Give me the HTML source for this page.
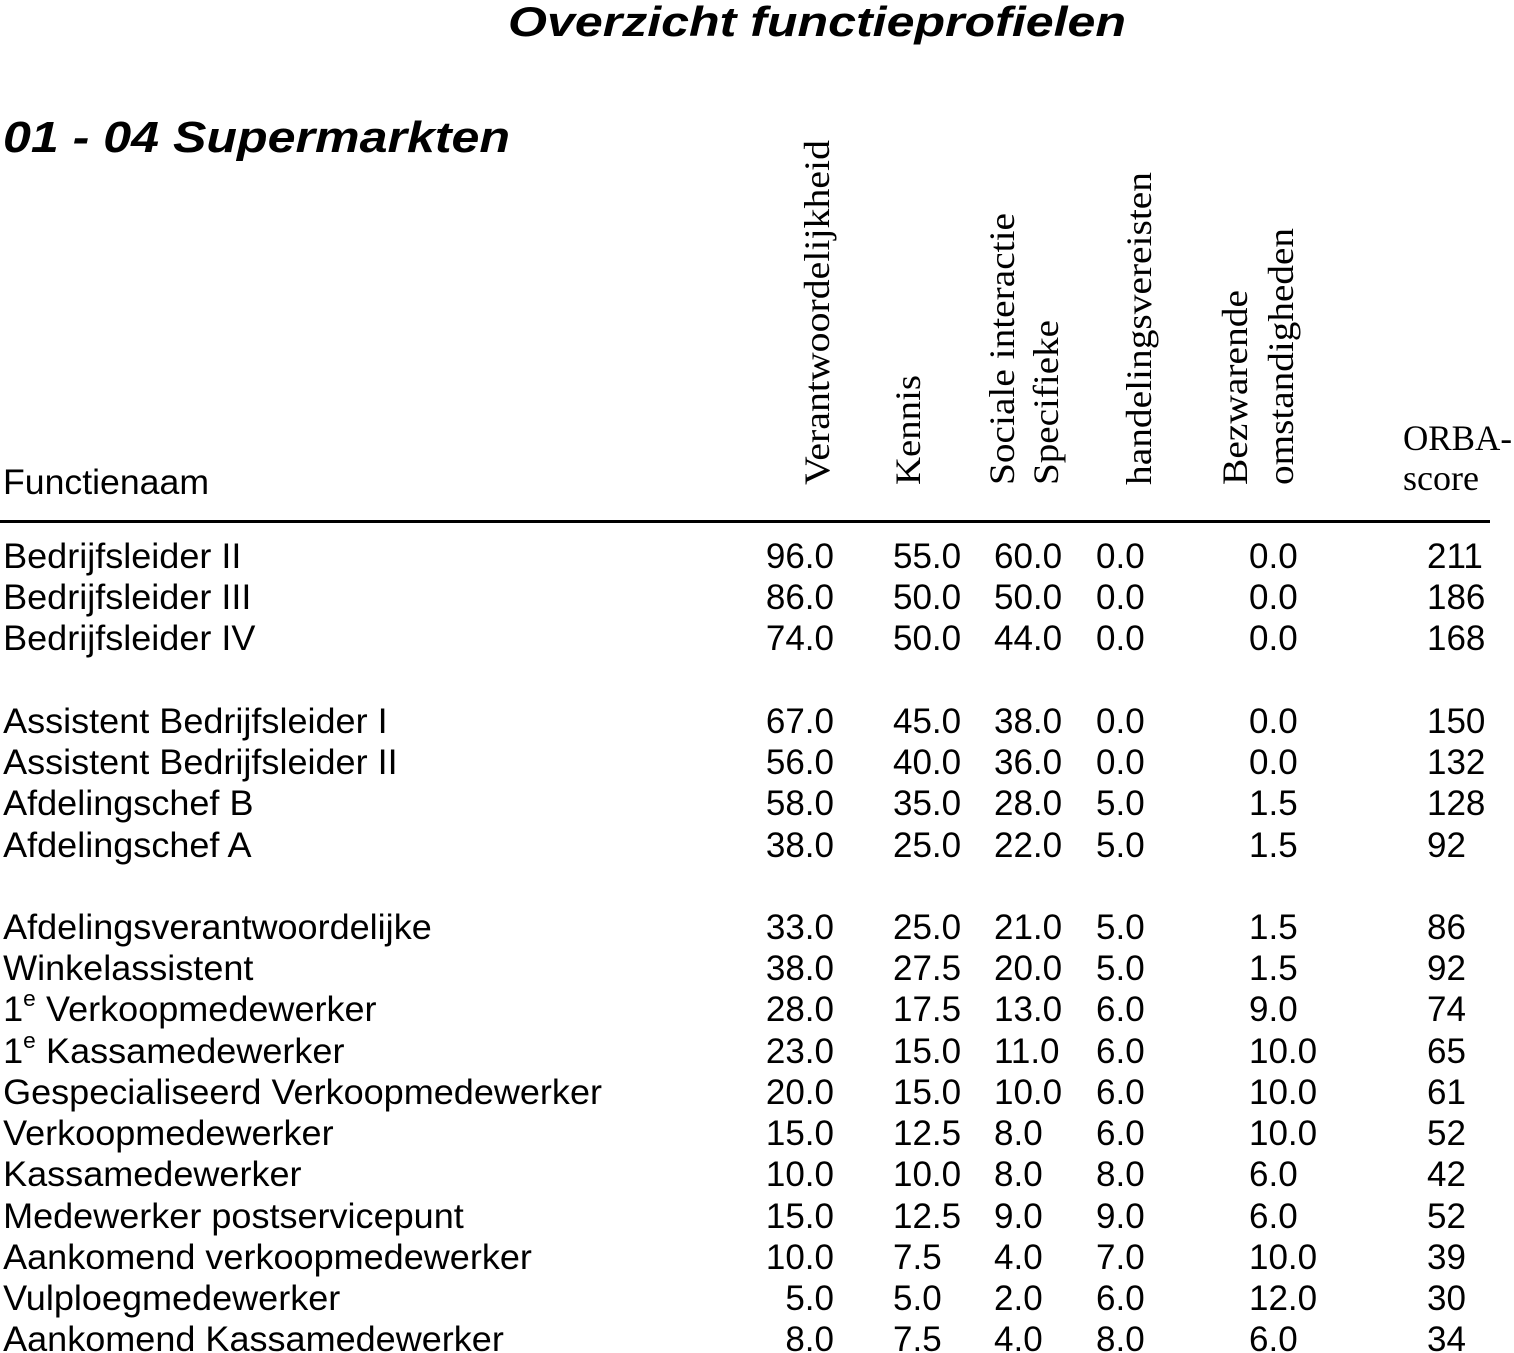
<!DOCTYPE html>
<html><head><meta charset="utf-8"><style>
html,body{margin:0;padding:0;background:#fff;}
svg{display:block;}
.s{font-family:"Liberation Sans",sans-serif;font-size:35px;fill:#000;}
.r{font-family:"Liberation Serif",serif;font-size:36px;fill:#000;}
.t{font-family:"Liberation Sans",sans-serif;font-weight:bold;font-style:italic;fill:#000;}
</style></head><body>
<svg width="1514" height="1353" viewBox="0 0 1514 1353" xmlns="http://www.w3.org/2000/svg">
<text class="t" x="817" y="36" font-size="42" text-anchor="middle" textLength="618" lengthAdjust="spacingAndGlyphs">Overzicht functieprofielen</text>
<text class="t" x="3" y="152" font-size="44" textLength="507" lengthAdjust="spacingAndGlyphs">01 - 04 Supermarkten</text>
<text class="r" transform="translate(829,485) rotate(-90)" textLength="345" lengthAdjust="spacingAndGlyphs">Verantwoordelijkheid</text>
<text class="r" transform="translate(920,485) rotate(-90)" textLength="110" lengthAdjust="spacingAndGlyphs">Kennis</text>
<text class="r" transform="translate(1014,485) rotate(-90)" textLength="272" lengthAdjust="spacingAndGlyphs">Sociale interactie</text>
<text class="r" transform="translate(1058,485) rotate(-90)" textLength="165" lengthAdjust="spacingAndGlyphs">Specifieke</text>
<text class="r" transform="translate(1151,485) rotate(-90)" textLength="313" lengthAdjust="spacingAndGlyphs">handelingsvereisten</text>
<text class="r" transform="translate(1247,485) rotate(-90)" textLength="195" lengthAdjust="spacingAndGlyphs">Bezwarende</text>
<text class="r" transform="translate(1293,485) rotate(-90)" textLength="257" lengthAdjust="spacingAndGlyphs">omstandigheden</text>
<text class="r" x="1403" y="450" textLength="109" lengthAdjust="spacingAndGlyphs">ORBA-</text>
<text class="r" x="1403" y="490" textLength="76" lengthAdjust="spacingAndGlyphs">score</text>
<text class="s" x="3" y="494" textLength="206" lengthAdjust="spacingAndGlyphs">Functienaam</text>
<rect x="0" y="520" width="1490" height="3" fill="#000"/>
<g class="s" id="names" transform="scale(1.03,1)"></g>
<g class="s" id="rows"></g>
</svg>
<script>
var rows=[
[556,"Bedrijfsleider II","96.0","55.0","60.0","0.0","0.0","211"],
[597,"Bedrijfsleider III","86.0","50.0","50.0","0.0","0.0","186"],
[638,"Bedrijfsleider IV","74.0","50.0","44.0","0.0","0.0","168"],
[721,"Assistent Bedrijfsleider I","67.0","45.0","38.0","0.0","0.0","150"],
[762,"Assistent Bedrijfsleider II","56.0","40.0","36.0","0.0","0.0","132"],
[803,"Afdelingschef B","58.0","35.0","28.0","5.0","1.5","128"],
[845,"Afdelingschef A","38.0","25.0","22.0","5.0","1.5","92"],
[927,"Afdelingsverantwoordelijke","33.0","25.0","21.0","5.0","1.5","86"],
[968,"Winkelassistent","38.0","27.5","20.0","5.0","1.5","92"],
[1009,"1|Verkoopmedewerker","28.0","17.5","13.0","6.0","9.0","74"],
[1051,"1|Kassamedewerker","23.0","15.0","11.0","6.0","10.0","65"],
[1092,"Gespecialiseerd Verkoopmedewerker","20.0","15.0","10.0","6.0","10.0","61"],
[1133,"Verkoopmedewerker","15.0","12.5","8.0","6.0","10.0","52"],
[1174,"Kassamedewerker","10.0","10.0","8.0","8.0","6.0","42"],
[1216,"Medewerker postservicepunt","15.0","12.5","9.0","9.0","6.0","52"],
[1257,"Aankomend verkoopmedewerker","10.0","7.5","4.0","7.0","10.0","39"],
[1298,"Vulploegmedewerker","5.0","5.0","2.0","6.0","12.0","30"],
[1339,"Aankomend Kassamedewerker","8.0","7.5","4.0","8.0","6.0","34"]];
var g=document.getElementById("rows"),gn=document.getElementById("names"),h="",hn="";
function t(x,y,s,a){return '<text x="'+x+'" y="'+y+'"'+(a?' text-anchor="end"':'')+'>'+s+'</text>';}
rows.forEach(function(r){var y=r[0]+12;
 if(r[1].indexOf("1|")==0){hn+='<text x="3" y="'+y+'">1<tspan font-size="22" dy="-15">e</tspan><tspan dy="15" dx="10">'+r[1].slice(2)+'</tspan></text>';}
 else hn+=t(3,y,r[1]);
 h+=t(834,y,r[2],1)+t(893,y,r[3])+t(994,y,r[4])+t(1096,y,r[5])+t(1249,y,r[6])+t(1427,y,r[7]);});
g.innerHTML=h;gn.innerHTML=hn;
</script>
</body></html>
